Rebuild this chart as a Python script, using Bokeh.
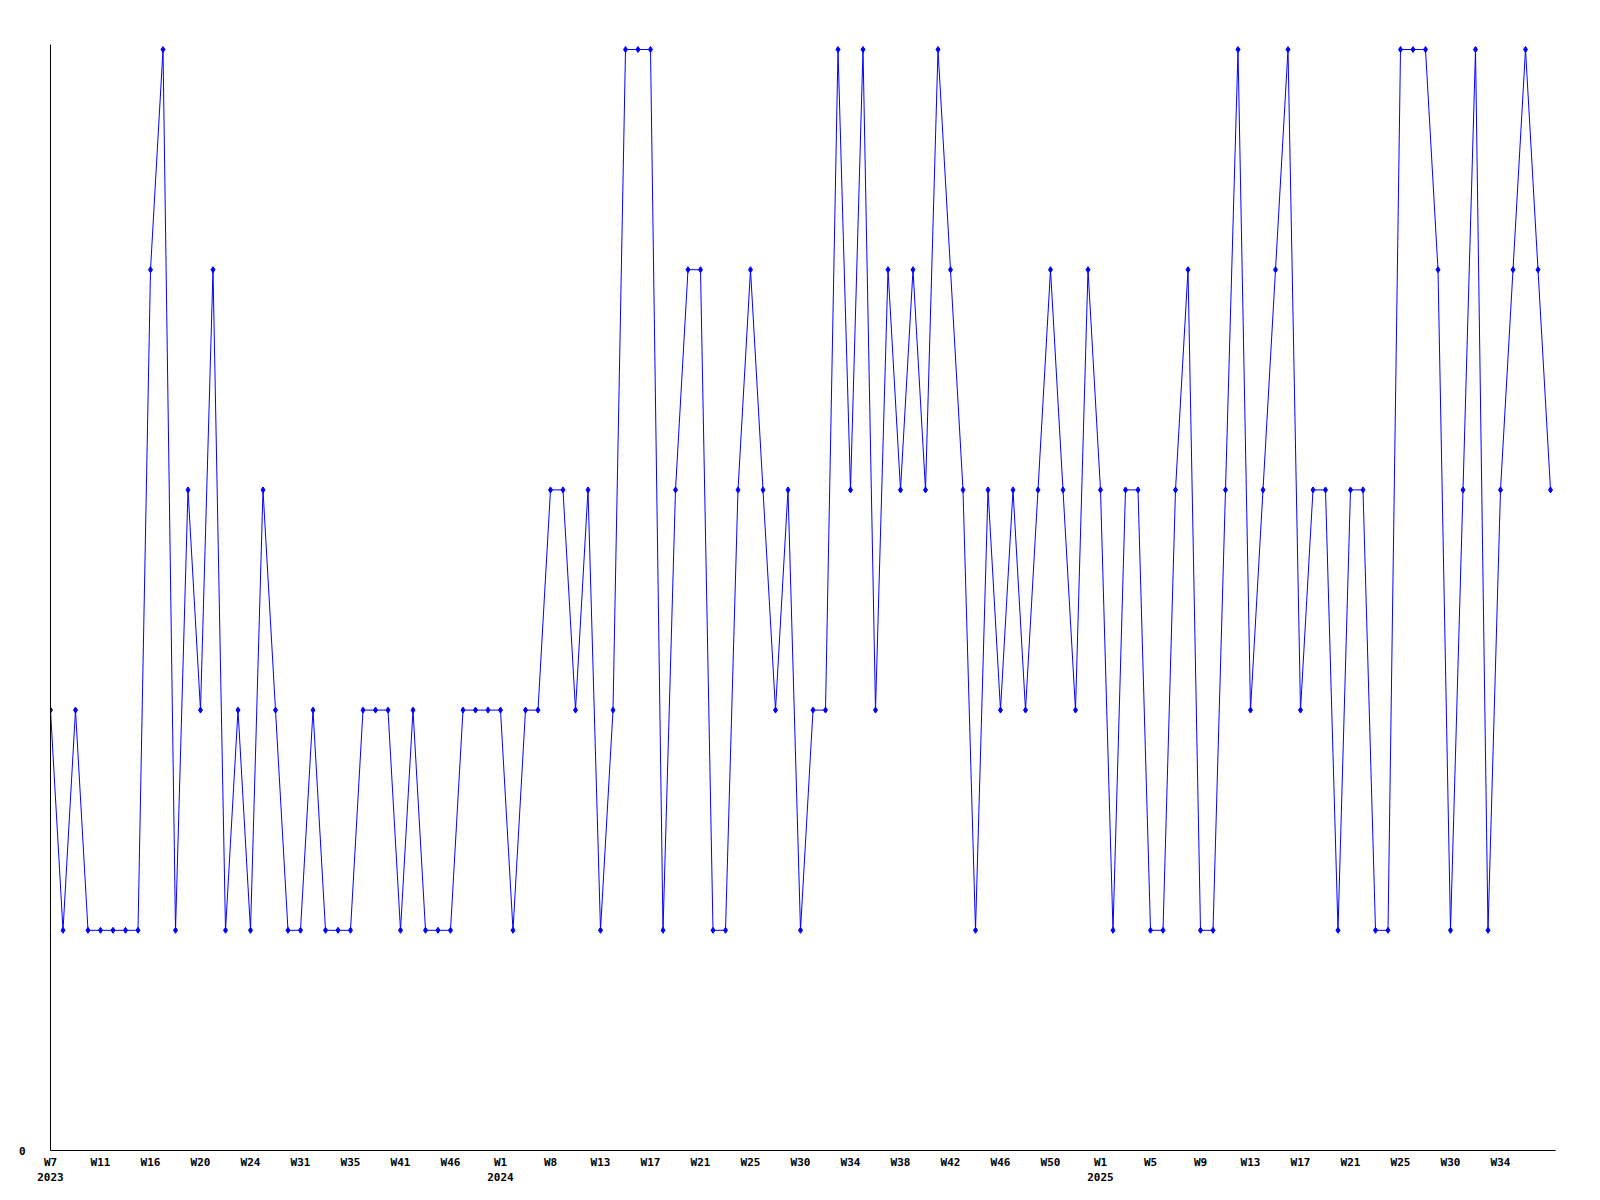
from bokeh.plotting import figure
from bokeh.models import FixedTicker, Range1d
from bokeh.embed import file_html
from bokeh.resources import INLINE

# Weekly values (categorical sequence of reported weeks)
values = [
    2, 1, 2, 1, 1, 1, 1, 1, 4, 5,
    1, 3, 2, 4, 1, 2, 1, 3, 2, 1,
    1, 2, 1, 1, 1, 2, 2, 2, 1, 2,
    1, 1, 1, 2, 2, 2, 2, 1, 2, 2,
    3, 3, 2, 3, 1, 2, 5, 5, 5, 1,
    3, 4, 4, 1, 1, 3, 4, 3, 2, 3,
    1, 2, 2, 5, 3, 5, 2, 4, 3, 4,
    3, 5, 4, 3, 1, 3, 2, 3, 2, 3,
    4, 3, 2, 4, 3, 1, 3, 3, 1, 1,
    3, 4, 1, 1, 3, 5, 2, 3, 4, 5,
    2, 3, 3, 1, 3, 3, 1, 1, 5, 5,
    5, 4, 1, 3, 5, 1, 3, 4, 5, 4,
    3,
]

# Labels shown every 4th point
tick_labels = [
    "W7\n2023", "W11", "W16", "W20", "W24", "W31", "W35", "W41", "W46",
    "W1\n2024", "W8", "W13", "W17", "W21", "W25", "W30", "W34", "W38",
    "W42", "W46", "W50", "W1\n2025", "W5", "W9", "W13", "W17", "W21",
    "W25", "W30", "W34",
]

x = list(range(len(values)))
tick_pos = [i * 4 for i in range(len(tick_labels))]

FONT = "DejaVu Sans Mono"

n = len(values) - 1
p = figure(
    width=1592, height=1192,
    output_backend="svg", toolbar_location=None,
    x_range=Range1d(0, n + 5 * n / 1500),
    y_range=Range1d(0, 5 + 5 * 5 / 1101),
    min_border_left=50, min_border_right=37,
    min_border_top=44, min_border_bottom=42,
)
p.outline_line_color = None
p.grid.visible = False

p.line(x, values, line_color="#0000ff", line_width=1)
p.scatter(x, values, marker="diamond", size=6, color="#0000ff")

xa = p.xaxis[0]
xa.ticker = FixedTicker(ticks=tick_pos)
xa.major_label_overrides = {pos: lab for pos, lab in zip(tick_pos, tick_labels)}
xa.major_tick_out = 0
xa.major_tick_in = 0
xa.minor_tick_out = 0
xa.minor_tick_in = 0
xa.major_label_standoff = 5
xa.major_label_text_font = FONT
xa.major_label_text_font_style = "bold"
xa.major_label_text_font_size = "11px"
xa.major_label_text_color = "black"
xa.axis_line_color = "black"

ya = p.yaxis[0]
ya.ticker = FixedTicker(ticks=[0])
ya.major_label_overrides = {0: "0"}
ya.major_tick_out = 0
ya.major_tick_in = 0
ya.minor_tick_out = 0
ya.minor_tick_in = 0
ya.major_label_standoff = 25
ya.major_label_text_font = FONT
ya.major_label_text_font_style = "bold"
ya.major_label_text_font_size = "11px"
ya.major_label_text_color = "black"
ya.axis_line_color = "black"

open("out.html", "w").write(file_html(p, INLINE))
